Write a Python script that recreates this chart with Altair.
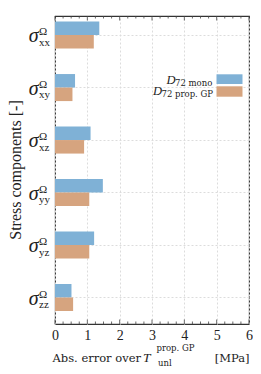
import altair as alt
import pandas as pd

components = ["xx", "xy", "xz", "yy", "yz", "zz"]
mono = [1.37, 0.62, 1.10, 1.48, 1.21, 0.51]
prop_gp = [1.20, 0.54, 0.90, 1.06, 1.06, 0.56]
series = ["mono", "prop"]
colors = ["#7fb1d6", "#d6a47f"]
x_ticks = [0, 1, 2, 3, 4, 5, 6]
minor_ticks = [i * 0.25 for i in range(25)]

rows = []
for c, m, p in zip(components, mono, prop_gp):
    rows.append({"comp": c, "series": "mono", "err": m})
    rows.append({"comp": c, "series": "prop", "err": p})
df = pd.DataFrame(rows)

FONT = "'Liberation Serif', serif"
WIDE = "'DejaVu Serif', serif"
W, H = 194, 308

yscale = alt.Scale(domain=components, paddingInner=0.485, paddingOuter=0.1765, align=0.3)
xscale = alt.Scale(domain=[0, 6], nice=False)

xaxis = alt.Axis(values=x_ticks, grid=True, gridDash=[2, 2], gridColor="#dcdcdc",
                 ticks=False, domain=False, labelFont=FONT, labelFontSize=14,
                 labelColor="#222", labelPadding=4, title=None, format="d",
                 labelOverlap=False, labelFlush=False)
yaxis = alt.Axis(labels=False, ticks=False, domain=False, grid=True, gridDash=[2, 2],
                 gridColor="#dcdcdc", bandPosition=0.5, title=None)

bars = alt.Chart(df).mark_bar(opacity=1).encode(
    x=alt.X("err:Q", scale=xscale, axis=xaxis),
    y=alt.Y("comp:N", scale=yscale, axis=yaxis),
    yOffset=alt.YOffset("series:N", scale=alt.Scale(domain=series, paddingInner=0, paddingOuter=0)),
    color=alt.Color("series:N", scale=alt.Scale(domain=series, range=colors), legend=None),
)

tick_df = pd.DataFrame({"t": minor_ticks, "major": [abs(t - round(t)) < 1e-9 for t in minor_ticks]})

def ticks(major, top):
    L = 4.5 if major else 2.5
    f = "datum.major" if major else "!datum.major"
    y0, y1 = (0, L) if top else (H, H - L)
    return alt.Chart(tick_df).transform_filter(f).mark_rule(color="#444", strokeWidth=0.8).encode(
        x=alt.X("t:Q", scale=xscale, axis=xaxis), y=alt.value(y0), y2=alt.value(y1))

lab_df = pd.DataFrame({"comp": components})
sigma = alt.Chart(lab_df).mark_text(text="σ", font=FONT, fontStyle="italic", fontSize=20, align="right",
                                     baseline="alphabetic", dy=7, color="#222").encode(
    y=alt.Y("comp:N", scale=yscale, axis=yaxis), x=alt.value(-16.5))
omega = alt.Chart(lab_df).mark_text(text="Ω", font=FONT, fontSize=11, align="left",
                                     baseline="alphabetic", dy=0, color="#222").encode(
    y=alt.Y("comp:N", scale=yscale, axis=yaxis), x=alt.value(-16))
subs = alt.Chart(lab_df).mark_text(font=FONT, fontSize=11, align="left",
                                    baseline="alphabetic", dy=10.5, color="#222").encode(
    y=alt.Y("comp:N", scale=yscale, axis=yaxis), x=alt.value(-16), text="comp:N")

one = alt.Data(values=[{"a": 1}])

def txt(s, x, y, size, align="left", style="normal", font=FONT):
    return alt.Chart(one).mark_text(text=s, font=font, fontSize=size, align=align, baseline="alphabetic",
                                    fontStyle=style, color="#222").encode(x=alt.value(x), y=alt.value(y))

ytitle = alt.Chart(one).mark_text(text="Stress components [-]", font=FONT, fontSize=16, angle=270,
                                  align="center", baseline="middle", color="#222").encode(
    x=alt.value(-39.5), y=alt.value(154))

xtitle = [
    txt("Abs. error over", 86, 345.5, 11.5, align="right", font=WIDE),
    txt("T", 88, 345.5, 13.5, style="italic"),
    txt("prop. GP", 101.5, 334.5, 8.5, font=WIDE),
    txt("unl", 103, 350, 8.5, font=WIDE),
    txt("[MPa]", 194.5, 345.5, 11.5, align="right", font=WIDE),
]

def swatch(y0, y1, col):
    return alt.Chart(one).mark_rect(color=col).encode(
        x=alt.value(161.5), x2=alt.value(187.5), y=alt.value(y0), y2=alt.value(y1))

legend = [
    swatch(58.3, 68, colors[0]),
    swatch(70.3, 80.7, colors[1]),
    txt("D", 111.5, 68.3, 12.5, style="italic"),
    txt("72 mono", 120, 69.5, 8.5, font=WIDE),
    txt("D", 98, 78.5, 12.5, style="italic"),
    txt("72 prop. GP", 106.5, 80.5, 8.5, font=WIDE),
]

chart = alt.layer(bars, ticks(False, False), ticks(False, True), ticks(True, False), ticks(True, True),
                  sigma, omega, subs, ytitle, *xtitle, *legend).properties(
    width=W, height=H,
    autosize=alt.AutoSizeParams(type="none"),
    padding={"left": 47, "top": 8, "right": 4, "bottom": 46},
).configure_view(stroke="#333", strokeWidth=1.1)

chart.save("out.html", embed_options={"renderer": "svg", "actions": False})
